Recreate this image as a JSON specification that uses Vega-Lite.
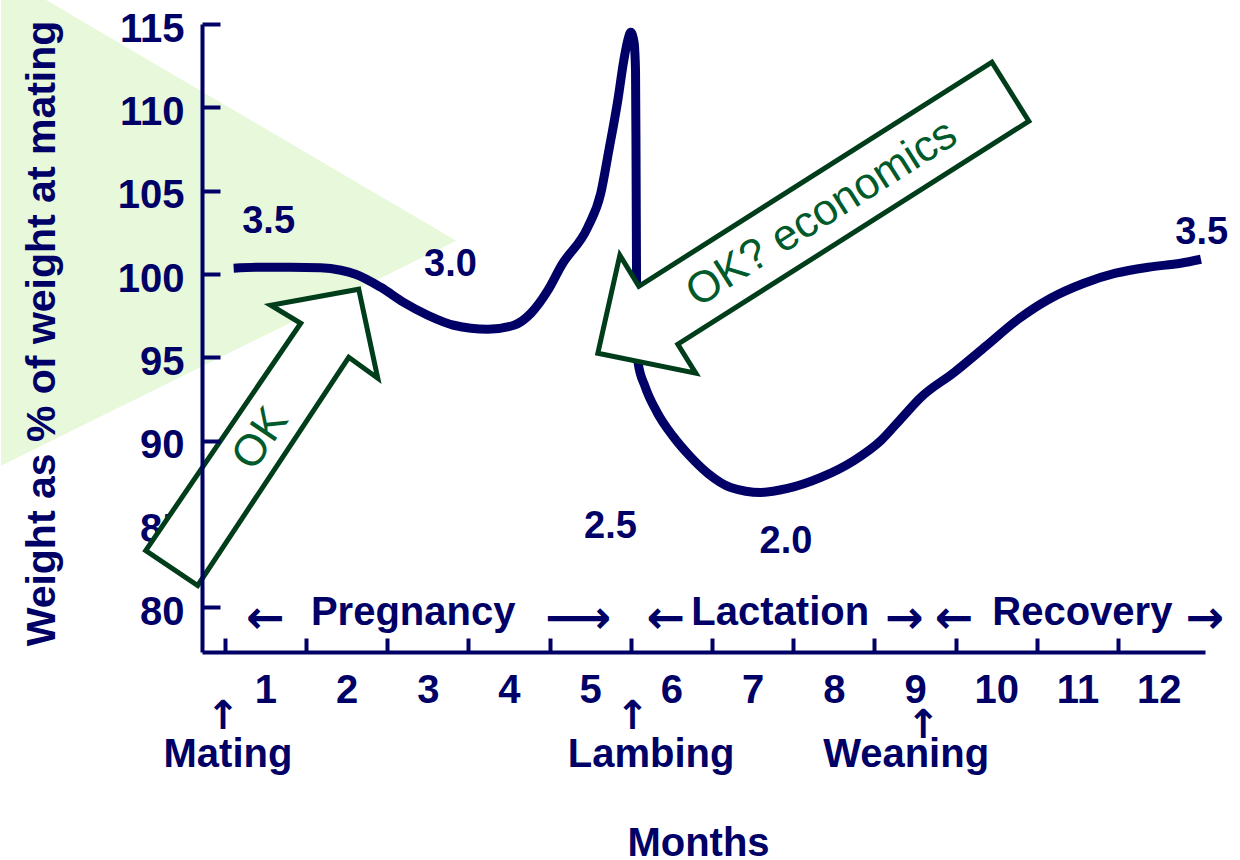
{
  "$schema": "https://vega.github.io/schema/vega-lite/v6.json",
  "padding": 0,
  "autosize": {"type": "pad"},
  "background": "white",
  "width": 1003,
  "height": 628,
  "config": {
    "font": "Liberation Sans",
    "view": {"stroke": null}
  },
  "datasets": {
    "backdrop": [
      {"i": 1, "month": -2.755, "pct": 116.437},
      {"i": 2, "month": -2.2, "pct": 116.437},
      {"i": 3, "month": 2.85, "pct": 102.0},
      {"i": 4, "month": -2.755, "pct": 88.5}
    ],
    "curve": [
      {"month": 0.11, "pct": 100.35},
      {"month": 0.44, "pct": 100.41},
      {"month": 0.81, "pct": 100.41},
      {"month": 1.18, "pct": 100.38},
      {"month": 1.43, "pct": 100.23},
      {"month": 1.61, "pct": 99.99},
      {"month": 1.92, "pct": 99.21},
      {"month": 2.2, "pct": 98.31},
      {"month": 2.5, "pct": 97.53},
      {"month": 2.82, "pct": 96.93},
      {"month": 3.24, "pct": 96.69},
      {"month": 3.56, "pct": 96.93},
      {"month": 3.77, "pct": 97.65},
      {"month": 3.98, "pct": 99.03},
      {"month": 4.15, "pct": 100.55},
      {"month": 4.47, "pct": 102.81},
      {"month": 4.63, "pct": 104.85},
      {"month": 4.73, "pct": 107.43},
      {"month": 4.84, "pct": 110.43},
      {"month": 4.914, "pct": 112.83},
      {"month": 4.963, "pct": 114.03},
      {"month": 5.0, "pct": 114.5},
      {"month": 5.04, "pct": 113.9},
      {"month": 5.058, "pct": 112.2},
      {"month": 5.064, "pct": 107.4},
      {"month": 5.069, "pct": 101.4},
      {"month": 5.074, "pct": 96.6},
      {"month": 5.089, "pct": 94.7},
      {"month": 5.175, "pct": 93.26},
      {"month": 5.323, "pct": 91.71},
      {"month": 5.52, "pct": 90.27},
      {"month": 5.729, "pct": 89.07},
      {"month": 5.95, "pct": 88.04},
      {"month": 6.23, "pct": 87.2},
      {"month": 6.6, "pct": 86.9},
      {"month": 6.93, "pct": 87.14},
      {"month": 7.34, "pct": 87.8},
      {"month": 7.75, "pct": 88.82},
      {"month": 8.08, "pct": 90.02},
      {"month": 8.33, "pct": 91.34},
      {"month": 8.57, "pct": 92.6},
      {"month": 8.98, "pct": 94.1},
      {"month": 9.37, "pct": 95.67},
      {"month": 9.77, "pct": 97.29},
      {"month": 10.17, "pct": 98.55},
      {"month": 10.58, "pct": 99.45},
      {"month": 10.97, "pct": 100.05},
      {"month": 11.37, "pct": 100.41},
      {"month": 11.77, "pct": 100.65},
      {"month": 12.02, "pct": 100.89}
    ],
    "curveLabels": [
      {"label": "3.5", "month": 0.54, "pct": 103.11},
      {"label": "3.0", "month": 2.78, "pct": 100.53},
      {"label": "2.5", "month": 4.75, "pct": 84.8},
      {"label": "2.0", "month": 6.91, "pct": 83.9},
      {"label": "3.5", "month": 12.03, "pct": 102.45}
    ],
    "phases": [
      {"label": "Pregnancy", "month": 2.32, "pct": 79.67},
      {"label": "Lactation", "month": 6.84, "pct": 79.67},
      {"label": "Recovery", "month": 10.56, "pct": 79.67}
    ],
    "phaseArrows": [
      {"label": "←", "month": 0.5, "pct": 79.3},
      {"label": "⟶", "month": 4.35, "pct": 79.3},
      {"label": "←", "month": 5.43, "pct": 79.3},
      {"label": "→", "month": 8.37, "pct": 79.3},
      {"label": "←", "month": 8.98, "pct": 79.3},
      {"label": "→", "month": 12.07, "pct": 79.3}
    ],
    "eventArrows": [
      {"label": "↑", "month": -0.02, "pct": 72.7},
      {"label": "↑", "month": 5.02, "pct": 72.7},
      {"label": "↑", "month": 8.6, "pct": 72.2}
    ],
    "events": [
      {"label": "Mating", "month": 0.04, "pct": 70.46},
      {"label": "Lambing", "month": 5.25, "pct": 70.46},
      {"label": "Weaning", "month": 8.39, "pct": 70.46}
    ],
    "arrows": [
      {"shape": "ok", "i": 1, "month": 1.65, "pct": 99.09},
      {"shape": "ok", "i": 2, "month": 1.884, "pct": 93.75},
      {"shape": "ok", "i": 3, "month": 1.527, "pct": 95.01},
      {"shape": "ok", "i": 4, "month": -0.333, "pct": 81.32},
      {"shape": "ok", "i": 5, "month": -0.973, "pct": 83.42},
      {"shape": "ok", "i": 6, "month": 0.936, "pct": 97.05},
      {"shape": "ok", "i": 7, "month": 0.567, "pct": 98.13},
      {"shape": "econ", "i": 1, "month": 4.594, "pct": 95.25},
      {"shape": "econ", "i": 2, "month": 5.8, "pct": 94.05},
      {"shape": "econ", "i": 3, "month": 5.579, "pct": 95.79},
      {"shape": "econ", "i": 4, "month": 9.901, "pct": 109.17},
      {"shape": "econ", "i": 5, "month": 9.446, "pct": 112.71},
      {"shape": "econ", "i": 6, "month": 5.099, "pct": 99.27},
      {"shape": "econ", "i": 7, "month": 4.865, "pct": 101.13}
    ],
    "okText": [
      {"label": "OK", "month": 0.443, "pct": 90.11}
    ],
    "econText": [
      {"label": "OK? economics", "month": 7.352, "pct": 103.62}
    ]
  },
  "resolve": {"axis": {"y": "independent"}},
  "encoding": {
    "x": {
      "field": "month",
      "type": "quantitative",
      "scale": {"domain": [-0.28, 12.07], "nice": false, "zero": false},
      "axis": {
        "values": [0, 1, 2, 3, 4, 5, 6, 7, 8, 9, 10, 11],
        "labelExpr": "datum.value + 1",
        "labelOffset": 40.6,
        "labelPadding": 32,
        "labelFontSize": 40,
        "labelFontWeight": "bold",
        "labelColor": "#000066",
        "labelFlush": false,
        "labelOverlap": false,
        "labelBound": false,
        "labelAngle": 0,
        "tickSize": -14,
        "tickWidth": 4,
        "tickColor": "#000066",
        "domainColor": "#000066",
        "domainWidth": 4,
        "grid": false,
        "title": "Months",
        "titleFontSize": 40,
        "titleFontWeight": "bold",
        "titleColor": "#000066",
        "titleX": 496,
        "titleY": 203,
        "titleAlign": "center",
        "titleBaseline": "alphabetic"
      }
    },
    "y": {
      "field": "pct",
      "type": "quantitative",
      "scale": {"domain": [77.33, 115], "nice": false, "zero": false},
      "axis": null
    }
  },
  "layer": [
    {
      "data": {"name": "backdrop"},
      "mark": {"type": "line", "interpolate": "linear-closed", "fill": "#e8f8da", "stroke": "#e8f8da", "strokeWidth": 0},
      "encoding": {
        "order": {"field": "i", "type": "quantitative"}
      }
    },
    {
      "data": {"name": "curve"},
      "mark": {"type": "line", "interpolate": "monotone", "color": "#000066", "strokeWidth": 9, "strokeCap": "butt"},
      "encoding": {
        "y": {
          "field": "pct",
          "type": "quantitative",
          "scale": {"domain": [77.33, 115], "nice": false, "zero": false},
          "axis": {
            "orient": "left",
            "zindex": 1,
            "values": [80, 90, 95, 100, 105, 110, 115],
            "labelPadding": 36,
            "labelOffset": 5,
            "labelFontSize": 40,
            "labelFontWeight": "bold",
            "labelColor": "#000066",
            "labelFlush": false,
            "labelOverlap": false,
            "labelBound": false,
            "tickSize": -18,
            "tickWidth": 4,
            "tickColor": "#000066",
            "domainColor": "#000066",
            "domainWidth": 4,
            "grid": false,
            "title": "Weight as % of weight at mating",
            "titleFontSize": 41,
            "titleFontWeight": "bold",
            "titleColor": "#000066",
            "titleAngle": -90,
            "titleX": -148,
            "titleY": 309,
            "titleAlign": "center",
            "titleBaseline": "alphabetic"
          }
        }
      }
    },
    {
      "data": {"name": "curveLabels"},
      "mark": {"type": "text", "fontSize": 38, "fontWeight": "bold", "color": "#000066", "align": "center", "baseline": "middle"},
      "encoding": {
        "text": {"field": "label"},
        "y": {
          "field": "pct",
          "type": "quantitative",
          "scale": {"domain": [77.33, 115], "nice": false, "zero": false},
          "axis": {
            "orient": "left",
            "zindex": 0,
            "values": [85],
            "domain": false,
            "labelPadding": 36,
            "labelOffset": 5,
            "labelFontSize": 40,
            "labelFontWeight": "bold",
            "labelColor": "#000066",
            "labelFlush": false,
            "labelOverlap": false,
            "labelBound": false,
            "tickSize": -18,
            "tickWidth": 4,
            "tickColor": "#000066",
            "grid": false,
            "title": null
          }
        }
      }
    },
    {
      "data": {"name": "phases"},
      "mark": {"type": "text", "fontSize": 40, "fontWeight": "bold", "color": "#000066", "align": "center", "baseline": "middle"},
      "encoding": {"text": {"field": "label"}}
    },
    {
      "data": {"name": "phaseArrows"},
      "mark": {"type": "text", "font": "DejaVu Sans", "fontSize": 46, "fontWeight": "bold", "color": "#000066", "align": "center", "baseline": "middle"},
      "encoding": {"text": {"field": "label"}}
    },
    {
      "data": {"name": "eventArrows"},
      "mark": {"type": "text", "font": "DejaVu Sans", "fontSize": 40, "fontWeight": "bold", "color": "#000066", "align": "center", "baseline": "alphabetic"},
      "encoding": {"text": {"field": "label"}}
    },
    {
      "data": {"name": "events"},
      "mark": {"type": "text", "fontSize": 40, "fontWeight": "bold", "color": "#000066", "align": "center", "baseline": "alphabetic"},
      "encoding": {"text": {"field": "label"}}
    },
    {
      "data": {"name": "arrows"},
      "mark": {"type": "line", "interpolate": "linear-closed", "fill": "white", "stroke": "#003d1a", "strokeWidth": 5, "strokeJoin": "miter"},
      "encoding": {
        "order": {"field": "i", "type": "quantitative"},
        "detail": {"field": "shape"}
      }
    },
    {
      "data": {"name": "okText"},
      "mark": {"type": "text", "fontSize": 44, "color": "#005a2b", "align": "center", "baseline": "middle", "angle": -55.7},
      "encoding": {"text": {"field": "label"}}
    },
    {
      "data": {"name": "econText"},
      "mark": {"type": "text", "fontSize": 44, "color": "#005a2b", "align": "center", "baseline": "middle", "angle": -32.4},
      "encoding": {"text": {"field": "label"}}
    }
  ]
}
